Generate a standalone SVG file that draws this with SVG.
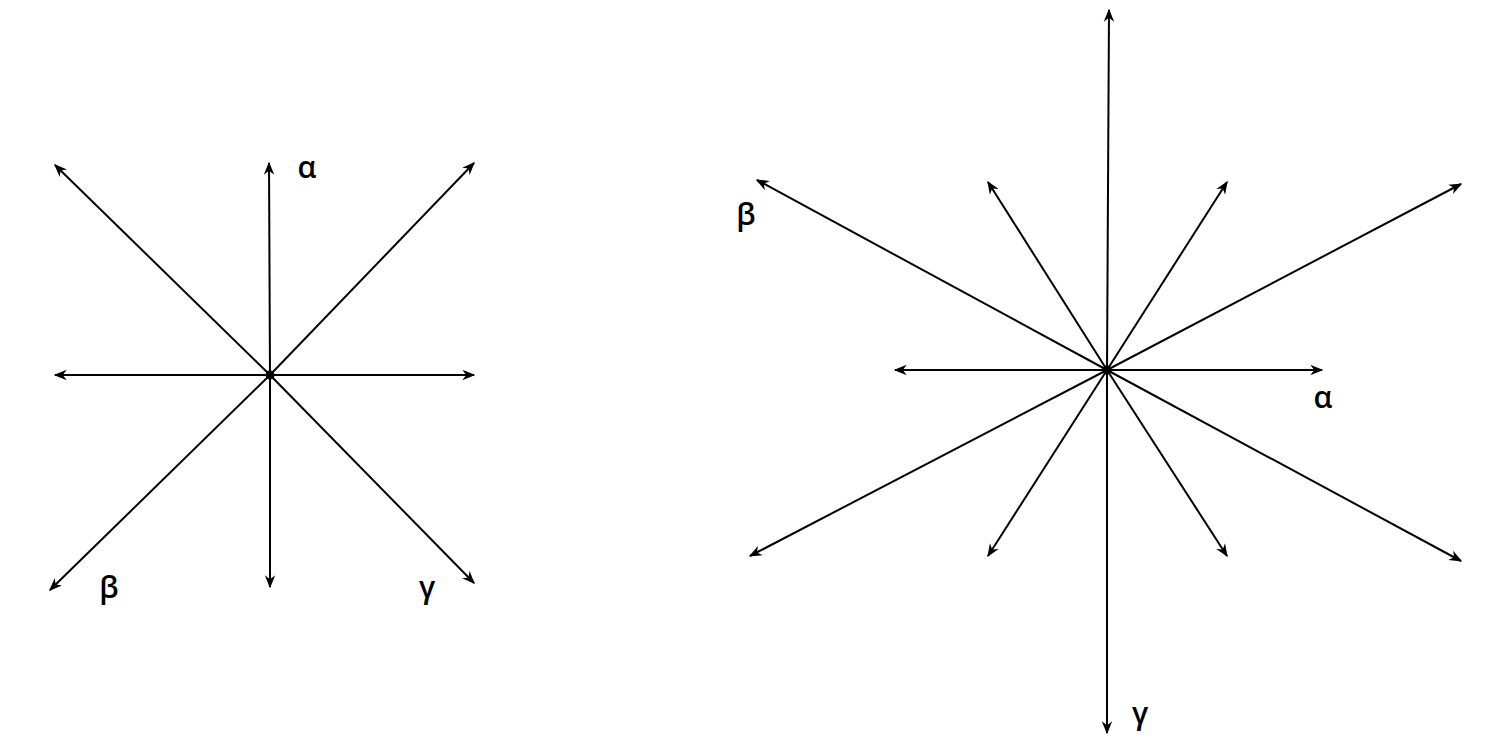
<svg xmlns="http://www.w3.org/2000/svg" width="1508" height="746" viewBox="0 0 1508 746">
<style>
.c line{stroke:#000;stroke-width:2;marker-end:url(#a)}
text{font-family:"Open Sans","DejaVu Sans",sans-serif;font-size:30px;font-weight:600;fill:#000}
</style>
<defs>
<marker id="a" viewBox="0 0 10 10" refX="9" refY="5" markerWidth="13" markerHeight="13" markerUnits="userSpaceOnUse" orient="auto" overflow="visible">
<path d="M0,1 L10,5 L0,9 L3,5 Z" fill="#000"/>
</marker>
</defs>
<rect width="1508" height="746" fill="#fff"/>
<g id="connectors" class="c">
<line x1="270" y1="375" x2="55" y2="165"/>
<line x1="270" y1="375" x2="269" y2="163"/>
<line x1="270" y1="375" x2="474" y2="163"/>
<line x1="270" y1="375" x2="55" y2="375"/>
<line x1="270" y1="375" x2="474" y2="375"/>
<line x1="270" y1="375" x2="50" y2="590"/>
<line x1="270" y1="375" x2="270" y2="587"/>
<line x1="270" y1="375" x2="474" y2="583"/>
<line x1="1107" y1="370" x2="1109" y2="10"/>
<line x1="1107" y1="370" x2="757" y2="180"/>
<line x1="1107" y1="370" x2="988" y2="182"/>
<line x1="1107" y1="370" x2="1227" y2="182"/>
<line x1="1107" y1="370" x2="1461" y2="184"/>
<line x1="1107" y1="370" x2="895" y2="370"/>
<line x1="1107" y1="370" x2="1322" y2="370"/>
<line x1="1107" y1="370" x2="750" y2="556"/>
<line x1="1107" y1="370" x2="988" y2="556"/>
<line x1="1107" y1="370" x2="1227" y2="556"/>
<line x1="1107" y1="370" x2="1461" y2="561"/>
<line x1="1107" y1="370" x2="1107" y2="733"/>
</g>
<g id="center-left"><circle cx="270" cy="375" r="4.5" fill="#000"/></g>
<g id="center-right"><circle cx="1107" cy="370" r="4.5" fill="#000"/></g>
<g id="labels-left">
<text x="307" y="178" text-anchor="middle">α</text>
<text x="109" y="598" text-anchor="middle">β</text>
<text x="427" y="598" text-anchor="middle">γ</text>
</g>
<g id="labels-right">
<text x="746" y="225" text-anchor="middle">β</text>
<text x="1323" y="408" text-anchor="middle">α</text>
<text x="1140" y="724" text-anchor="middle">γ</text>
</g>
</svg>
